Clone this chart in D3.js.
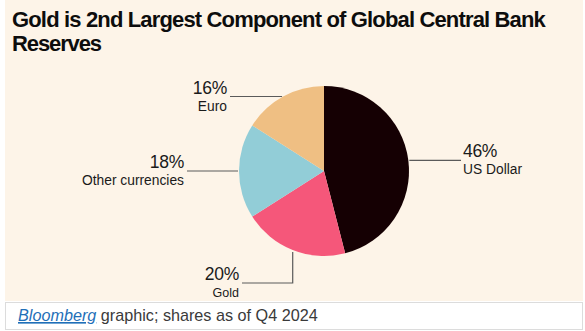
<!DOCTYPE html>
<html>
<head>
<meta charset="utf-8">
<title>Gold is 2nd Largest Component of Global Central Bank Reserves</title>
<script src="https://cdn.jsdelivr.net/npm/d3@7"></script>
<style>
  body { margin: 0; background: #fff; }
  svg { display: block; }
</style>
</head>
<body>
<script>
  // data, clockwise from 12 o'clock
  var categories = ["US Dollar", "Gold", "Other currencies", "Euro"];
  var shares = [46, 20, 18, 16];
  var colors = ["#150003", "#f5577a", "#92cdd7", "#efbf83"];

  var width = 585, height = 331;
  var cx = 324, cy = 171, radius = 85;

  // where each leader line ends (layout only)
  var leaders = {
    "US Dollar":        { side: "right", endX: 461 },
    "Gold":             { side: "left",  endX: 242, elbowY: 283 },
    "Other currencies": { side: "left",  endX: 187 },
    "Euro":             { side: "left",  endX: 230 }
  };

  var svg = d3.select("body").append("svg")
      .attr("width", width)
      .attr("height", height);

  // cream panel
  svg.append("rect")
      .attr("x", 5).attr("y", 0)
      .attr("width", 578).attr("height", 301)
      .attr("fill", "#fdf4e8");

  // footer box
  svg.append("rect")
      .attr("x", 5.5).attr("y", 302.5)
      .attr("width", 577).attr("height", 27)
      .attr("fill", "#fff")
      .attr("stroke", "#dcdcdc");

  // title, tightened with letter-spacing to fit the original width
  function fitLine(txt, y, w) {
    var t = svg.append("text")
        .attr("x", 12).attr("y", y)
        .attr("font-family", "Liberation Sans, Arial, sans-serif")
        .attr("font-weight", "bold")
        .attr("font-size", 22)
        .attr("fill", "#0d0d0d")
        .text(txt);
    var natural = t.node().getComputedTextLength();
    t.attr("letter-spacing", (w - natural) / txt.length);
  }
  fitLine("Gold is 2nd Largest Component of Global Central Bank", 27, 533);
  fitLine("Reserves", 51, 89);

  var data = categories.map(function(c, i) {
    return { name: c, value: shares[i], color: colors[i] };
  });

  var pie = d3.pie().sort(null).value(function(d) { return d.value; });
  var arc = d3.arc().innerRadius(0).outerRadius(radius);
  var arcs = pie(data);

  var g = svg.append("g").attr("transform", "translate(" + cx + "," + cy + ")");

  g.selectAll("path.slice")
    .data(arcs)
    .enter().append("path")
      .attr("class", "slice")
      .attr("d", arc)
      .attr("fill", function(d) { return d.data.color; });

  // leader lines and labels
  arcs.forEach(function(a) {
    var mid = (a.startAngle + a.endAngle) / 2;
    var px = Math.sin(mid) * radius, py = -Math.cos(mid) * radius;
    var L = leaders[a.data.name];
    var lineY, pts;
    if (L.elbowY !== undefined) {
      lineY = L.elbowY - cy;
      pts = [[px, py + 2], [px, lineY], [L.endX - cx, lineY]];
    } else {
      lineY = py;
      pts = [[px + (L.side === "right" ? 1 : -1), py], [L.endX - cx, py]];
    }
    g.append("path")
      .attr("d", d3.line()(pts))
      .attr("fill", "none")
      .attr("stroke", "#5a5a5a")
      .attr("stroke-width", 1.2);

    var tx = L.side === "right" ? L.endX - cx + 2 : L.endX - cx - 3;
    var anchor = L.side === "right" ? "start" : "end";
    g.append("text")
      .attr("x", tx).attr("y", lineY - 3)
      .attr("text-anchor", anchor)
      .attr("font-family", "Liberation Sans, Arial, sans-serif")
      .attr("font-size", 17.5)
      .attr("letter-spacing", -0.3)
      .attr("fill", "#1a1a1a")
      .text(a.data.value + "%");
    g.append("text")
      .attr("x", tx).attr("y", lineY + 14)
      .attr("text-anchor", anchor)
      .attr("font-family", "Liberation Sans, Arial, sans-serif")
      .attr("font-size", a.data.name === "Gold" ? 12.5 : 13.8)
      .attr("fill", "#1a1a1a")
      .text(a.data.name);
  });

  // footer
  var foot = svg.append("text")
      .attr("x", 18).attr("y", 321)
      .attr("font-family", "Liberation Sans, Arial, sans-serif")
      .attr("font-size", 16.2)
      .attr("fill", "#3a3a3a");
  foot.append("tspan")
      .attr("font-style", "italic")
      .attr("fill", "#1f6fb8")
      .attr("text-decoration", "underline")
      .text("Bloomberg");
  foot.append("tspan").text(" graphic; shares as of Q4 2024");
</script>
</body>
</html>
